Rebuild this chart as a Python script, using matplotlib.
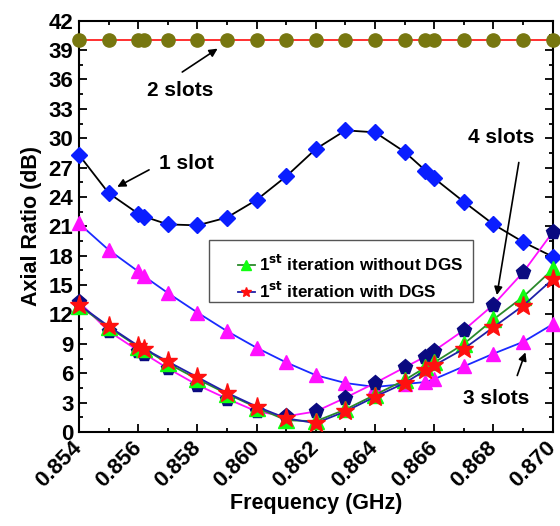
import matplotlib.pyplot as plt
from matplotlib.ticker import MultipleLocator
from matplotlib.patches import Rectangle

plt.rcParams['font.family'] = ['Liberation Sans', 'DejaVu Sans']
plt.rcParams['font.weight'] = 'bold'

# Frequency points (GHz)
freq = [0.854, 0.855, 0.856, 0.8562, 0.857, 0.858, 0.859, 0.860, 0.861, 0.862,
        0.863, 0.864, 0.865, 0.8657, 0.866, 0.867, 0.868, 0.869, 0.870]

# Axial ratio (dB) for each design
slot2 = [40.0, 40.0, 40.0, 40.0, 40.0, 40.0, 40.0, 40.0, 40.0, 40.0,
         40.0, 40.0, 40.0, 40.0, 40.0, 40.0, 40.0, 40.0, 40.0]
slot1 = [28.3, 24.4, 22.3, 22.0, 21.2, 21.1, 21.9, 23.7, 26.1, 28.9,
         30.8, 30.6, 28.6, 26.7, 25.9, 23.5, 21.2, 19.4, 17.9]
slot3 = [21.3, 18.6, 16.4, 15.9, 14.2, 12.2, 10.3, 8.6, 7.1, 5.8,
         5.0, 4.6, 4.9, 5.1, 5.4, 6.7, 8.0, 9.2, 11.0]
slot4 = [13.3, 10.3, 8.3, 8.0, 6.5, 4.8, 3.4, 2.1, 1.6, 2.1,
         3.5, 5.0, 6.6, 7.7, 8.3, 10.4, 13.0, 16.3, 20.4]
iter_no_dgs = [12.9, 10.7, 8.7, 8.5, 7.0, 5.4, 3.9, 2.5, 1.2, 1.1,
               2.3, 3.8, 5.3, 6.6, 7.1, 9.0, 11.5, 13.8, 16.6]
iter_dgs = [13.0, 10.8, 8.8, 8.5, 7.2, 5.6, 4.0, 2.6, 1.4, 0.9,
            2.1, 3.6, 5.0, 6.3, 6.8, 8.5, 10.7, 12.9, 15.6]

fig = plt.figure(figsize=(5.6, 5.26), dpi=100)
ax = fig.add_axes([0.141, 0.1787, 0.846, 0.782])

ax.plot(freq, slot2, color='#ff2020', lw=1.3, marker='o', ms=9.5,
        mfc='#777710', mec='#777710', clip_on=False, zorder=3)
ax.plot(freq, slot1, color='black', lw=1.3, marker='D', ms=8.5,
        mfc='#0a1eff', mec='#0a1eff', clip_on=False, zorder=3)
ax.plot(freq, slot3, color='#1a2aff', lw=1.3, marker='^', ms=10,
        mfc='#ff10ff', mec='#ff10ff', clip_on=False, zorder=3)
ax.plot(freq, slot4, color='#ff10ff', lw=1.3, marker='p', ms=11,
        mfc='#0a0a80', mec='#0a0a80', clip_on=False, zorder=3)
ax.plot(freq, iter_no_dgs, color='#2a8a2a', lw=1.3, marker='^', ms=11,
        mfc='#10ff10', mec='#10ff10', clip_on=False, zorder=4,
        label='1$^{\\mathbf{st}}$ iteration without DGS')
ax.plot(freq, iter_dgs, color='#2020a8', lw=1.3, marker='*', ms=14,
        mfc='#ff1010', mec='#ff1010', clip_on=False, zorder=5,
        label='1$^{\\mathbf{st}}$ iteration with DGS')

ax.set_xlim(0.854, 0.870)
ax.set_ylim(0, 42)
ax.xaxis.set_major_locator(MultipleLocator(0.002))
ax.xaxis.set_minor_locator(MultipleLocator(0.001))
ax.yaxis.set_major_locator(MultipleLocator(3))
ax.yaxis.set_minor_locator(MultipleLocator(1.5))
ax.tick_params(which='both', direction='in', top=True, right=True, width=1.3)
ax.tick_params(which='major', length=6, labelsize=16)
ax.tick_params(which='minor', length=3)
ax.tick_params(axis='x', which='major', pad=9)
ax.tick_params(axis='y', which='major', pad=4)
for lbl in ax.get_xticklabels():
    lbl.set_rotation(45)
    lbl.set_ha('right')
    lbl.set_va('center')
    lbl.set_rotation_mode('anchor')
for s in ax.spines.values():
    s.set_linewidth(1.5)

ax.set_xlabel('Frequency (GHz)', fontsize=15.5, fontweight='bold', labelpad=1)
ax.set_ylabel('Axial Ratio (dB)', fontsize=15.5, fontweight='bold', labelpad=5)

# annotations
arrow = dict(arrowstyle='-|>', color='black', lw=1.2, mutation_scale=12)
ax.annotate('', xy=(0.85876, 39.3), xytext=(0.85741, 36.6), arrowprops=arrow)
ax.text(0.85741, 34.9, '2 slots', fontsize=15, fontweight='bold',
        ha='center', va='center')
ax.annotate('', xy=(0.85521, 24.9), xytext=(0.85645, 26.9), arrowprops=arrow)
ax.text(0.85763, 27.4, '1 slot', fontsize=15, fontweight='bold',
        ha='center', va='center')
ax.annotate('', xy=(0.86810, 13.7), xytext=(0.86887, 27.8), arrowprops=arrow)
ax.text(0.86826, 30.1, '4 slots', fontsize=15, fontweight='bold',
        ha='center', va='center')
ax.annotate('', xy=(0.86911, 8.4), xytext=(0.86877, 5.5), arrowprops=arrow)
ax.text(0.86809, 3.4, '3 slots', fontsize=15, fontweight='bold',
        ha='center', va='center')

# legend box drawn separately, entries placed inside it
ax.add_patch(Rectangle((0.2743, 0.316), 0.5569, 0.1508, transform=ax.transAxes,
                       fill=True, facecolor='white', edgecolor='#555555',
                       lw=1.0, zorder=6))
leg = ax.legend(loc='center left', bbox_to_anchor=(0.3354, 0.3757),
                fontsize=12.3, frameon=False, handlelength=1.0,
                handletextpad=0.25, borderpad=0, borderaxespad=0,
                labelspacing=0.45)
leg.set_zorder(7)
for h in leg.legend_handles:
    h.set_markersize(7)

fig.savefig('out.png', dpi=100)
